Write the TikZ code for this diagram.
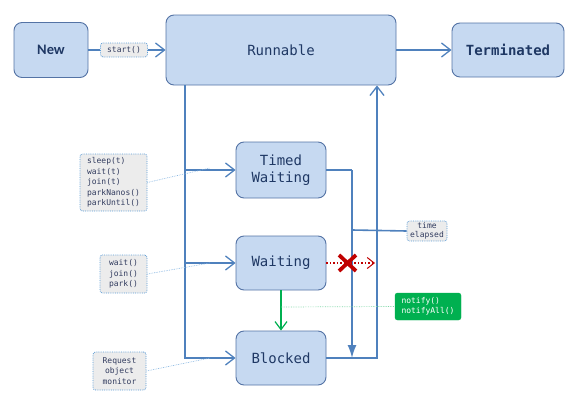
\documentclass[tikz,border=0pt]{standalone}
\usepackage{fontspec}
\setmonofont{DejaVu Sans Mono}
\newfontfamily\calfont{Carlito}
\usetikzlibrary{arrows.meta}
\definecolor{boxfill}{RGB}{198,217,241}
\definecolor{boxdraw}{RGB}{84,115,165}
\definecolor{linec}{RGB}{79,129,189}
\definecolor{txtc}{RGB}{31,56,100}
\definecolor{lblfill}{RGB}{236,236,236}
\definecolor{lbldraw}{RGB}{91,155,213}
\definecolor{lbltxt}{RGB}{50,60,95}
\definecolor{redc}{RGB}{192,0,0}
\definecolor{greenc}{RGB}{0,176,80}
\tikzset{
  state/.style={draw=boxdraw, fill=boxfill, line width=0.9pt, rounded corners=8pt,
    inner sep=0pt, align=center, text=txtc, font=\fontsize{14}{16}\selectfont\ttfamily},
  lbl/.style={draw=lbldraw, densely dotted, fill=lblfill, line width=0.8pt, rounded corners=2.5pt,
    inner sep=0pt, text=lbltxt, font=\fontsize{8}{10.5}\selectfont\ttfamily},
  conn/.style={draw=linec, line width=1.6pt},
  oarr/.style={-{Straight Barb[length=9pt,width=14pt,line width=1.3pt]}},
  farr/.style={-{Latex[length=13pt,width=9pt]}},
  hint/.style={draw=lbldraw!70, densely dotted, line width=0.7pt},
}
\begin{document}
\begin{tikzpicture}[x=1pt,y=-1pt]
\useasboundingbox (0,0) rectangle (576,407);
% states
\node[state, minimum width=74pt, minimum height=55pt, font=\fontsize{14.5}{16}\selectfont\calfont\bfseries] (new) at (51,50) {New};
\node[state, minimum width=230pt, minimum height=70pt] (run) at (281,50) {Runnable};
\node[state, minimum width=112pt, minimum height=54pt, font=\fontsize{14}{16}\selectfont\ttfamily\bfseries] (term) at (508,50) {Terminated};
\node[state, minimum width=90pt, minimum height=56pt] (timed) at (281,170) {Timed\\[1pt]Waiting};
\node[state, minimum width=90pt, minimum height=54pt] (wait) at (281,263) {Waiting};
\node[state, minimum width=90pt, minimum height=54pt] (block) at (281,358) {Blocked};
% labels
\node[lbl, minimum width=47pt, minimum height=14pt] (start) at (124,50) {start()};
\node[lbl, minimum width=67pt, minimum height=57pt, align=left] (sleep) at (113.5,182.5) {sleep(t)\\wait(t)\\join(t)\\parkNanos()\\parkUntil()};
\node[lbl, minimum width=47pt, minimum height=38pt, align=left] (waitl) at (123.5,274) {wait()\\join()\\park()};
\node[lbl, minimum width=53pt, minimum height=38pt, align=center] (req) at (119.5,371) {Request\\object\\monitor};
\node[lbl, minimum width=40pt, minimum height=20pt, align=center, font=\fontsize{8}{9}\selectfont\ttfamily] (elapsed) at (427,231) {time\\elapsed};
\node[draw=greenc, fill=greenc, rounded corners=2.5pt, inner sep=0pt, minimum width=66pt, minimum height=27pt,
  align=left, text=white, font=\fontsize{8}{10.5}\selectfont\ttfamily] (notify) at (428,306.5) {notify()\\notifyAll()};
% junction coordinates
\coordinate (ltop) at (run.south -| 185,0);
\coordinate (lbot) at (185,358);
\coordinate (tj) at (352,170);
\coordinate (tb) at (352,358);
\coordinate (rb) at (377,358);
\coordinate (rtop) at (run.south -| 377,0);
\coordinate (ej) at (352,230);
\coordinate (xend) at (375,263);
\coordinate (gj) at (281,307);
\coordinate (h1) at (210,168);
\coordinate (h2) at (210,263);
\coordinate (h3) at (210,358);
% connectors
\draw[conn] (new.east) -- (start.west);
\draw[conn, oarr] (start.east) -- (run.west);
\draw[conn, oarr] (run.east) -- (term.west);
\draw[conn, oarr] (ltop) -- (lbot) -- (block.west);
\draw[conn, oarr] (timed.west -| ltop) -- (timed.west);
\draw[conn, oarr] (wait.west -| ltop) -- (wait.west);
\draw[conn] (timed.east) -- (tj);
\draw[conn, farr] (tj) -- (tb);
\draw[conn, oarr] (block.east) -- (rb) -- (rtop);
\draw[conn] (ej) -- (elapsed.west);
\draw[redc, dotted, line width=1.5pt] (wait.east) -- (xend);
\draw[redc, line width=1pt, -{Straight Barb[length=7pt,width=11pt]}] ([xshift=-2pt]xend) -- (xend);
\draw[redc, line width=3.8pt] (339,255) -- (356,271);
\draw[redc, line width=3.8pt] (339,271) -- (356,255);
\draw[greenc, line width=1.4pt, -{Straight Barb[length=8pt,width=12pt,line width=1.2pt]}] (wait.south) -- (block.north);
\draw[greenc!50, densely dotted, line width=0.7pt] (gj) -- (notify.west);
\draw[hint] (sleep.east) -- (h1);
\draw[hint] (waitl.east) -- (h2);
\draw[hint] (req.east) -- (h3);
\end{tikzpicture}
\end{document}
